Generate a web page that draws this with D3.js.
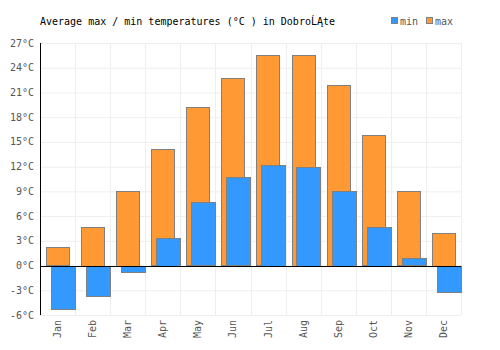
<!DOCTYPE html>
<html lang="en">
<head>
<meta charset="utf-8">
<title>Average max / min temperatures</title>
<script src="https://d3js.org/d3.v7.min.js"></script>
<style>
  body { margin: 0; background: #fff; }
  text { font-family: "DejaVu Sans Mono", monospace; font-size: 10px; }
</style>
</head>
<body>
<svg id="chart" width="500" height="350"></svg>
<script>
// data
const months = ["Jan", "Feb", "Mar", "Apr", "May", "Jun", "Jul", "Aug", "Sep", "Oct", "Nov", "Dec"];
const maxTemps = [2.2, 4.7, 9.1, 14.1, 19.2, 22.7, 25.5, 25.6, 21.9, 15.8, 9.0, 4.0];
const minTemps = [-5.2, -3.7, -0.7, 3.4, 7.7, 10.7, 12.2, 12.0, 9.1, 4.7, 0.9, -3.2];
const yTicks = [-6, -3, 0, 3, 6, 9, 12, 15, 18, 21, 24, 27];

const svg = d3.select("#chart");
const margin = {left: 40, right: 39, top: 43, bottom: 35};
const w = 500, h = 350;

const x = d3.scaleBand()
    .domain(months)
    .range([margin.left, w - margin.right]);

const y = d3.scaleLinear()
    .domain([-6, 27])
    .range([h - margin.bottom, margin.top]);

// grid
svg.append("g")
    .selectAll("line")
    .data(yTicks)
    .enter()
    .append("line")
    .attr("x1", margin.left)
    .attr("x2", w - margin.right)
    .attr("y1", d => y(d) + 0.5)
    .attr("y2", d => y(d) + 0.5)
    .style("stroke", "#eeeeee");

svg.append("g")
    .selectAll("line")
    .data(months.concat(["end"]))
    .enter()
    .append("line")
    .attr("x1", (d, i) => Math.round(margin.left + i * x.step()) + 0.5)
    .attr("x2", (d, i) => Math.round(margin.left + i * x.step()) + 0.5)
    .attr("y1", margin.top)
    .attr("y2", h - margin.bottom)
    .style("stroke", "#eeeeee");

// max bars (orange) drawn first, min bars (blue) on top
const bw = x.step();
svg.append("g")
    .selectAll("rect")
    .data(maxTemps)
    .enter()
    .append("rect")
    .attr("x", (d, i) => Math.round(x(months[i]) + bw * 0.17) + 0.5)
    .attr("width", Math.round(bw * 0.65))
    .attr("y", d => Math.round(y(Math.max(d, 0))) + 0.5)
    .attr("height", d => Math.round(Math.abs(y(d) - y(0))))
    .style("fill", "#ff9933")
    .style("stroke", "#808080")
    .style("stroke-width", 1);

svg.append("g")
    .selectAll("rect")
    .data(minTemps)
    .enter()
    .append("rect")
    .attr("x", (d, i) => Math.round(x(months[i]) + bw * 0.31) + 0.5)
    .attr("width", Math.round(bw * 0.69))
    .attr("y", d => Math.round(y(Math.max(d, 0))) + 0.5)
    .attr("height", d => Math.round(Math.abs(y(d) - y(0))))
    .style("fill", "#3399ff")
    .style("stroke", "#808080")
    .style("stroke-width", 1);

// zero line and y axis line
svg.append("line")
    .attr("x1", margin.left)
    .attr("x2", w - margin.right)
    .attr("y1", Math.round(y(0)) + 0.5)
    .attr("y2", Math.round(y(0)) + 0.5)
    .style("stroke", "#000");

svg.append("line")
    .attr("x1", margin.left + 0.5)
    .attr("x2", margin.left + 0.5)
    .attr("y1", margin.top)
    .attr("y2", h - margin.bottom)
    .style("stroke", "#000");

// y labels
svg.append("g")
    .selectAll("text")
    .data(yTicks)
    .enter()
    .append("text")
    .attr("x", 34)
    .attr("y", d => y(d))
    .attr("dy", "0.35em")
    .attr("text-anchor", "end")
    .style("fill", "#555")
    .text(d => d + "°C");

// x labels, rotated
svg.append("g")
    .selectAll("text")
    .data(months)
    .enter()
    .append("text")
    .attr("transform", d => "translate(" + (x(d) + bw / 2 + 3.5) + "," + 320 + ") rotate(-90)")
    .attr("text-anchor", "end")
    .style("fill", "#555")
    .text(d => d);

// title
svg.append("text")
    .attr("x", 40)
    .attr("y", 25)
    .style("fill", "#000")
    .text("Average max / min temperatures (°C ) in DobroĹĄte");

// legend
const legend = [{name: "min", color: "#3399ff"}, {name: "max", color: "#ff9933"}];
const lg = svg.append("g")
    .selectAll("g")
    .data(legend)
    .enter()
    .append("g")
    .attr("transform", (d, i) => "translate(" + (391 + i * 35) + ",17)");

lg.append("rect")
    .attr("x", 0.5)
    .attr("y", 0.5)
    .attr("width", 6)
    .attr("height", 6)
    .style("fill", d => d.color)
    .style("stroke", "#808080");

lg.append("text")
    .attr("x", 9)
    .attr("y", 8)
    .style("fill", "#555")
    .text(d => d.name);
</script>
</body>
</html>
